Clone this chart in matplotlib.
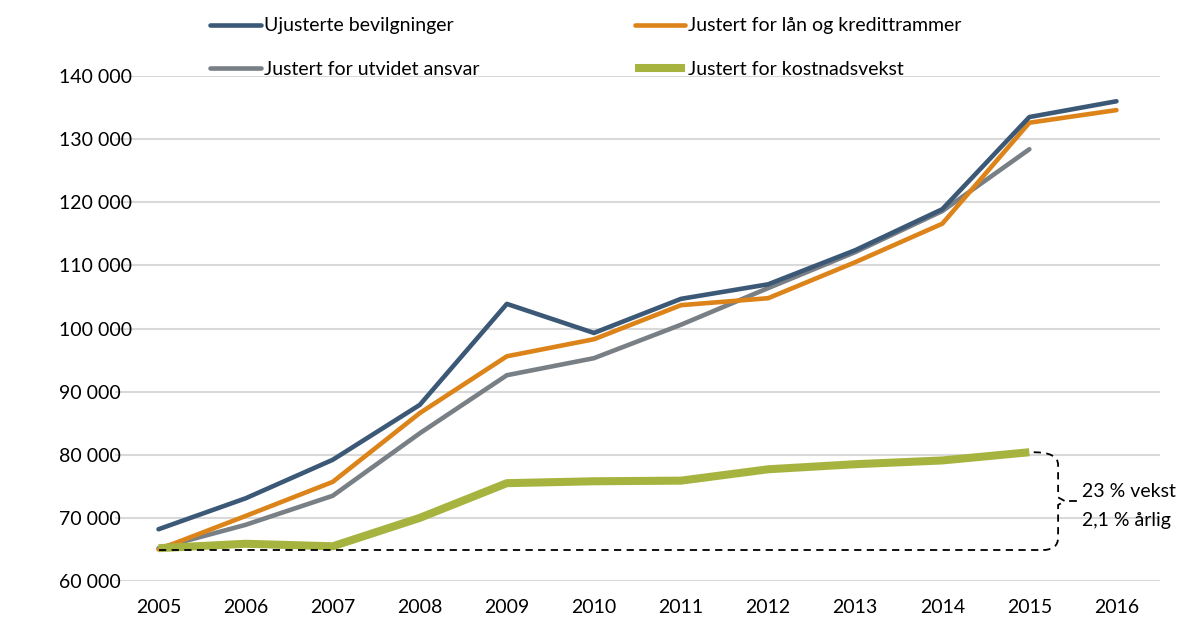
import matplotlib.pyplot as plt
import numpy as np
from matplotlib.path import Path
from matplotlib.patches import PathPatch

# Data
years = ['2005', '2006', '2007', '2008', '2009', '2010', '2011', '2012', '2013', '2014', '2015', '2016']
ujusterte = [68200, 73100, 79200, 87900, 103900, 99300, 104700, 107000, 112400, 118900, 133500, 136000]
laan = [65000, 70300, 75700, 86600, 95600, 98300, 103700, 104800, 110500, 116600, 132600, 134600]
utvidet = [65200, 68900, 73500, 83400, 92600, 95300, 100600, 106400, 112100, 118600, 128400]
kostnad = [65200, 65900, 65500, 70000, 75500, 75800, 75900, 77700, 78500, 79100, 80400]
base_level = 64900
yticks = [60000, 70000, 80000, 90000, 100000, 110000, 120000, 130000, 140000]
note = ['23 % vekst', '2,1 % årlig']

plt.rcParams['font.family'] = ['Lato', 'DejaVu Sans']

fig = plt.figure(figsize=(11.89, 6.21), dpi=100)
ax = fig.add_axes([0.0967, 0.0644, 0.8789, 0.8132])

x = np.arange(len(years))
ax.plot(x, ujusterte, color='#3b5876', lw=3.3, solid_capstyle='round', label='Ujusterte bevilgninger', zorder=4)
ax.plot(x[:len(utvidet)], utvidet, color='#787f85', lw=3.3, solid_capstyle='round', label='Justert for utvidet ansvar', zorder=3)
ax.plot(x, laan, color='#dc8419', lw=3.3, solid_capstyle='round', label='Justert for lån og kredittrammer', zorder=3)
ax.plot(x[:len(kostnad)], kostnad, color='#a6b43f', lw=5.8, solid_capstyle='butt', label='Justert for kostnadsvekst', zorder=3)

# dashed baseline + brace
last = len(kostnad) - 1
xe = last + 0.33
top = kostnad[-1]
mid = (top + base_level) / 2
ax.plot([0, last + 0.15], [base_level, base_level], color='black', lw=1.3, ls=(0, (4, 3)), zorder=5)
verts = [(last + 0.05, top), (xe, top), (xe, top - 2000),
         (xe, mid + 600), (xe + 0.08, mid), (xe, mid - 600),
         (xe, base_level + 2000), (xe, base_level), (last + 0.15, base_level)]
codes = [Path.MOVETO, Path.CURVE3, Path.CURVE3,
         Path.LINETO, Path.LINETO, Path.LINETO,
         Path.LINETO, Path.CURVE3, Path.CURVE3]
ax.add_patch(PathPatch(Path(verts, codes), fill=False, ec='black', lw=1.3, ls=(0, (4, 3)), zorder=5))
ax.plot([xe + 0.14, xe + 0.2], [mid, mid], color='black', lw=1.3, zorder=5)
ax.text(xe + 0.28, mid + 1600, note[0], fontsize=14, va='center', ha='left')
ax.text(xe + 0.28, mid - 3100, note[1], fontsize=14, va='center', ha='left')

ax.set_xlim(-0.5, 11.5)
ax.set_ylim(60000, 140000)
ax.set_xticks(x)
ax.set_xticklabels(years, fontsize=14)
ax.set_yticks(yticks)
ax.set_yticklabels([f'{v:,}'.replace(',', ' ') for v in yticks], fontsize=14)
ax.tick_params(length=0, pad=13)
ax.tick_params(axis='y', pad=40)
for lbl in ax.get_yticklabels():
    lbl.set_horizontalalignment('left')
for s in ax.spines.values():
    s.set_visible(False)
ax.grid(axis='y', color='#d9d9d9', lw=1.5)
ax.set_axisbelow(True)

fig.legend(loc='upper left', bbox_to_anchor=(0.162, 1.0), ncol=2, frameon=False,
           fontsize=14, handlelength=2.6, handletextpad=0.15, columnspacing=8.0,
           labelspacing=1.35)

plt.savefig('out.png', dpi=100)
